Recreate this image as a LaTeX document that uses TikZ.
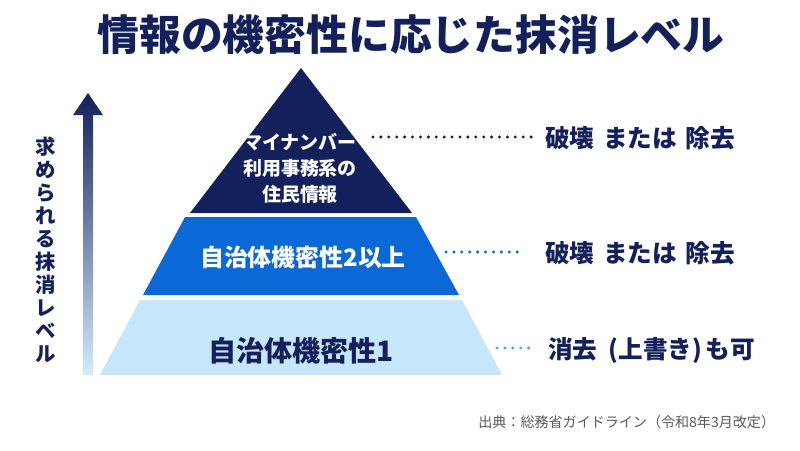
\documentclass[tikz,border=0pt]{standalone}
\usepackage{fontspec}
\setmainfont{Noto Sans CJK JP}
\usepackage{xcolor}
\usepackage{tikz}
\usetikzlibrary{positioning,calc}
\definecolor{pyrnavy}{HTML}{13205C}
\definecolor{pyrblue}{HTML}{0A69D6}
\definecolor{pyrlight}{HTML}{C6E6FB}
\definecolor{pyrdot}{HTML}{4AA8EC}
\definecolor{pyrarrowlo}{HTML}{D2ECFD}
\definecolor{pyrarrowmid}{HTML}{5886C4}
\definecolor{pyrgray}{HTML}{5A5A5A}
\tikzset{
  tierlbl/.style={align=center,inner sep=0pt,font=\bfseries},
  reslbl/.style={anchor=west,inner sep=0pt,text=pyrnavy,font=\bfseries\fontsize{14}{16}\selectfont},
  dotln/.style={line width=1.9pt,line cap=round,dash pattern=on 0pt off 4.5pt},
}

\begin{document}
\begin{tikzpicture}[x=0.02cm,y=-0.02cm]
\useasboundingbox (0,0) rectangle (800,450);
% title
\node[text=pyrnavy,inner sep=0pt,font=\bfseries\fontsize{23.8}{26}\selectfont] (title) at (411,35) {情報の機密性に応じた抹消レベル};
% gradient arrow on the left
\shade[top color=pyrnavy,middle color=pyrarrowmid,bottom color=pyrarrowlo]
  (83,375) -- (83,115) -- (73,115) -- (88,93) -- (103,115) -- (93,115) -- (93,375) -- cycle;
\node[text=pyrnavy,align=center,inner sep=0pt,font=\bfseries\fontsize{11.6}{13.1}\selectfont] (axis) at (46,250)
 {求\\め\\ら\\れ\\る\\抹\\消\\レ\\ベ\\ル};
% pyramid tiers
\fill[pyrnavy] (301,68) -- (412,213) -- (190,213) -- cycle;
\fill[pyrblue] (185,217) -- (416,217) -- (459,295) -- (143,295) -- cycle;
\fill[pyrlight] (140,300) -- (462,300) -- (502,375) -- (100,375) -- cycle;
\node[tierlbl,text=white,font=\bfseries\fontsize{10.8}{14.8}\selectfont] (t1) at (300,168)
 {マイナンバー\\利用事務系の\\住民情報};
\node[tierlbl,text=white,font=\bfseries\fontsize{13.6}{16}\selectfont] (t2) at (303,257) {自治体機密性2以上};
\node[tierlbl,text=pyrnavy,font=\bfseries\fontsize{16}{18}\selectfont] (t3) at (301,351) {自治体機密性1};
% results
\node[reslbl] (r1) at (545,138) {破壊\hspace{0.35em}または\hspace{0.35em}除去};
\node[reslbl] (r2) at (545,253) {破壊\hspace{0.35em}または\hspace{0.35em}除去};
\node[reslbl] (r3) at (548,350) {消去\hspace{0.45em}(上書き)\hspace{0.15em}も可};
\coordinate (d1) at (373,137);
\coordinate (d2) at (446,252);
\coordinate (d3) at (497,348);
\draw[dotln,pyrnavy] (d1) -- ($(r1.west)+(-13,-1)$);
\draw[dotln,pyrblue] (d2) -- ($(r2.west)+(-23,-1)$);
\draw[dotln,pyrdot] (d3) -- ($(r3.west)+(-13,-2)$);
% source
\node[anchor=west,inner sep=0pt,text=pyrgray,font=\fontsize{8}{10}\selectfont] (src) at (478,422)
 {出典：総務省ガイドライン（令和8年3月改定）};
\end{tikzpicture}
\end{document}
